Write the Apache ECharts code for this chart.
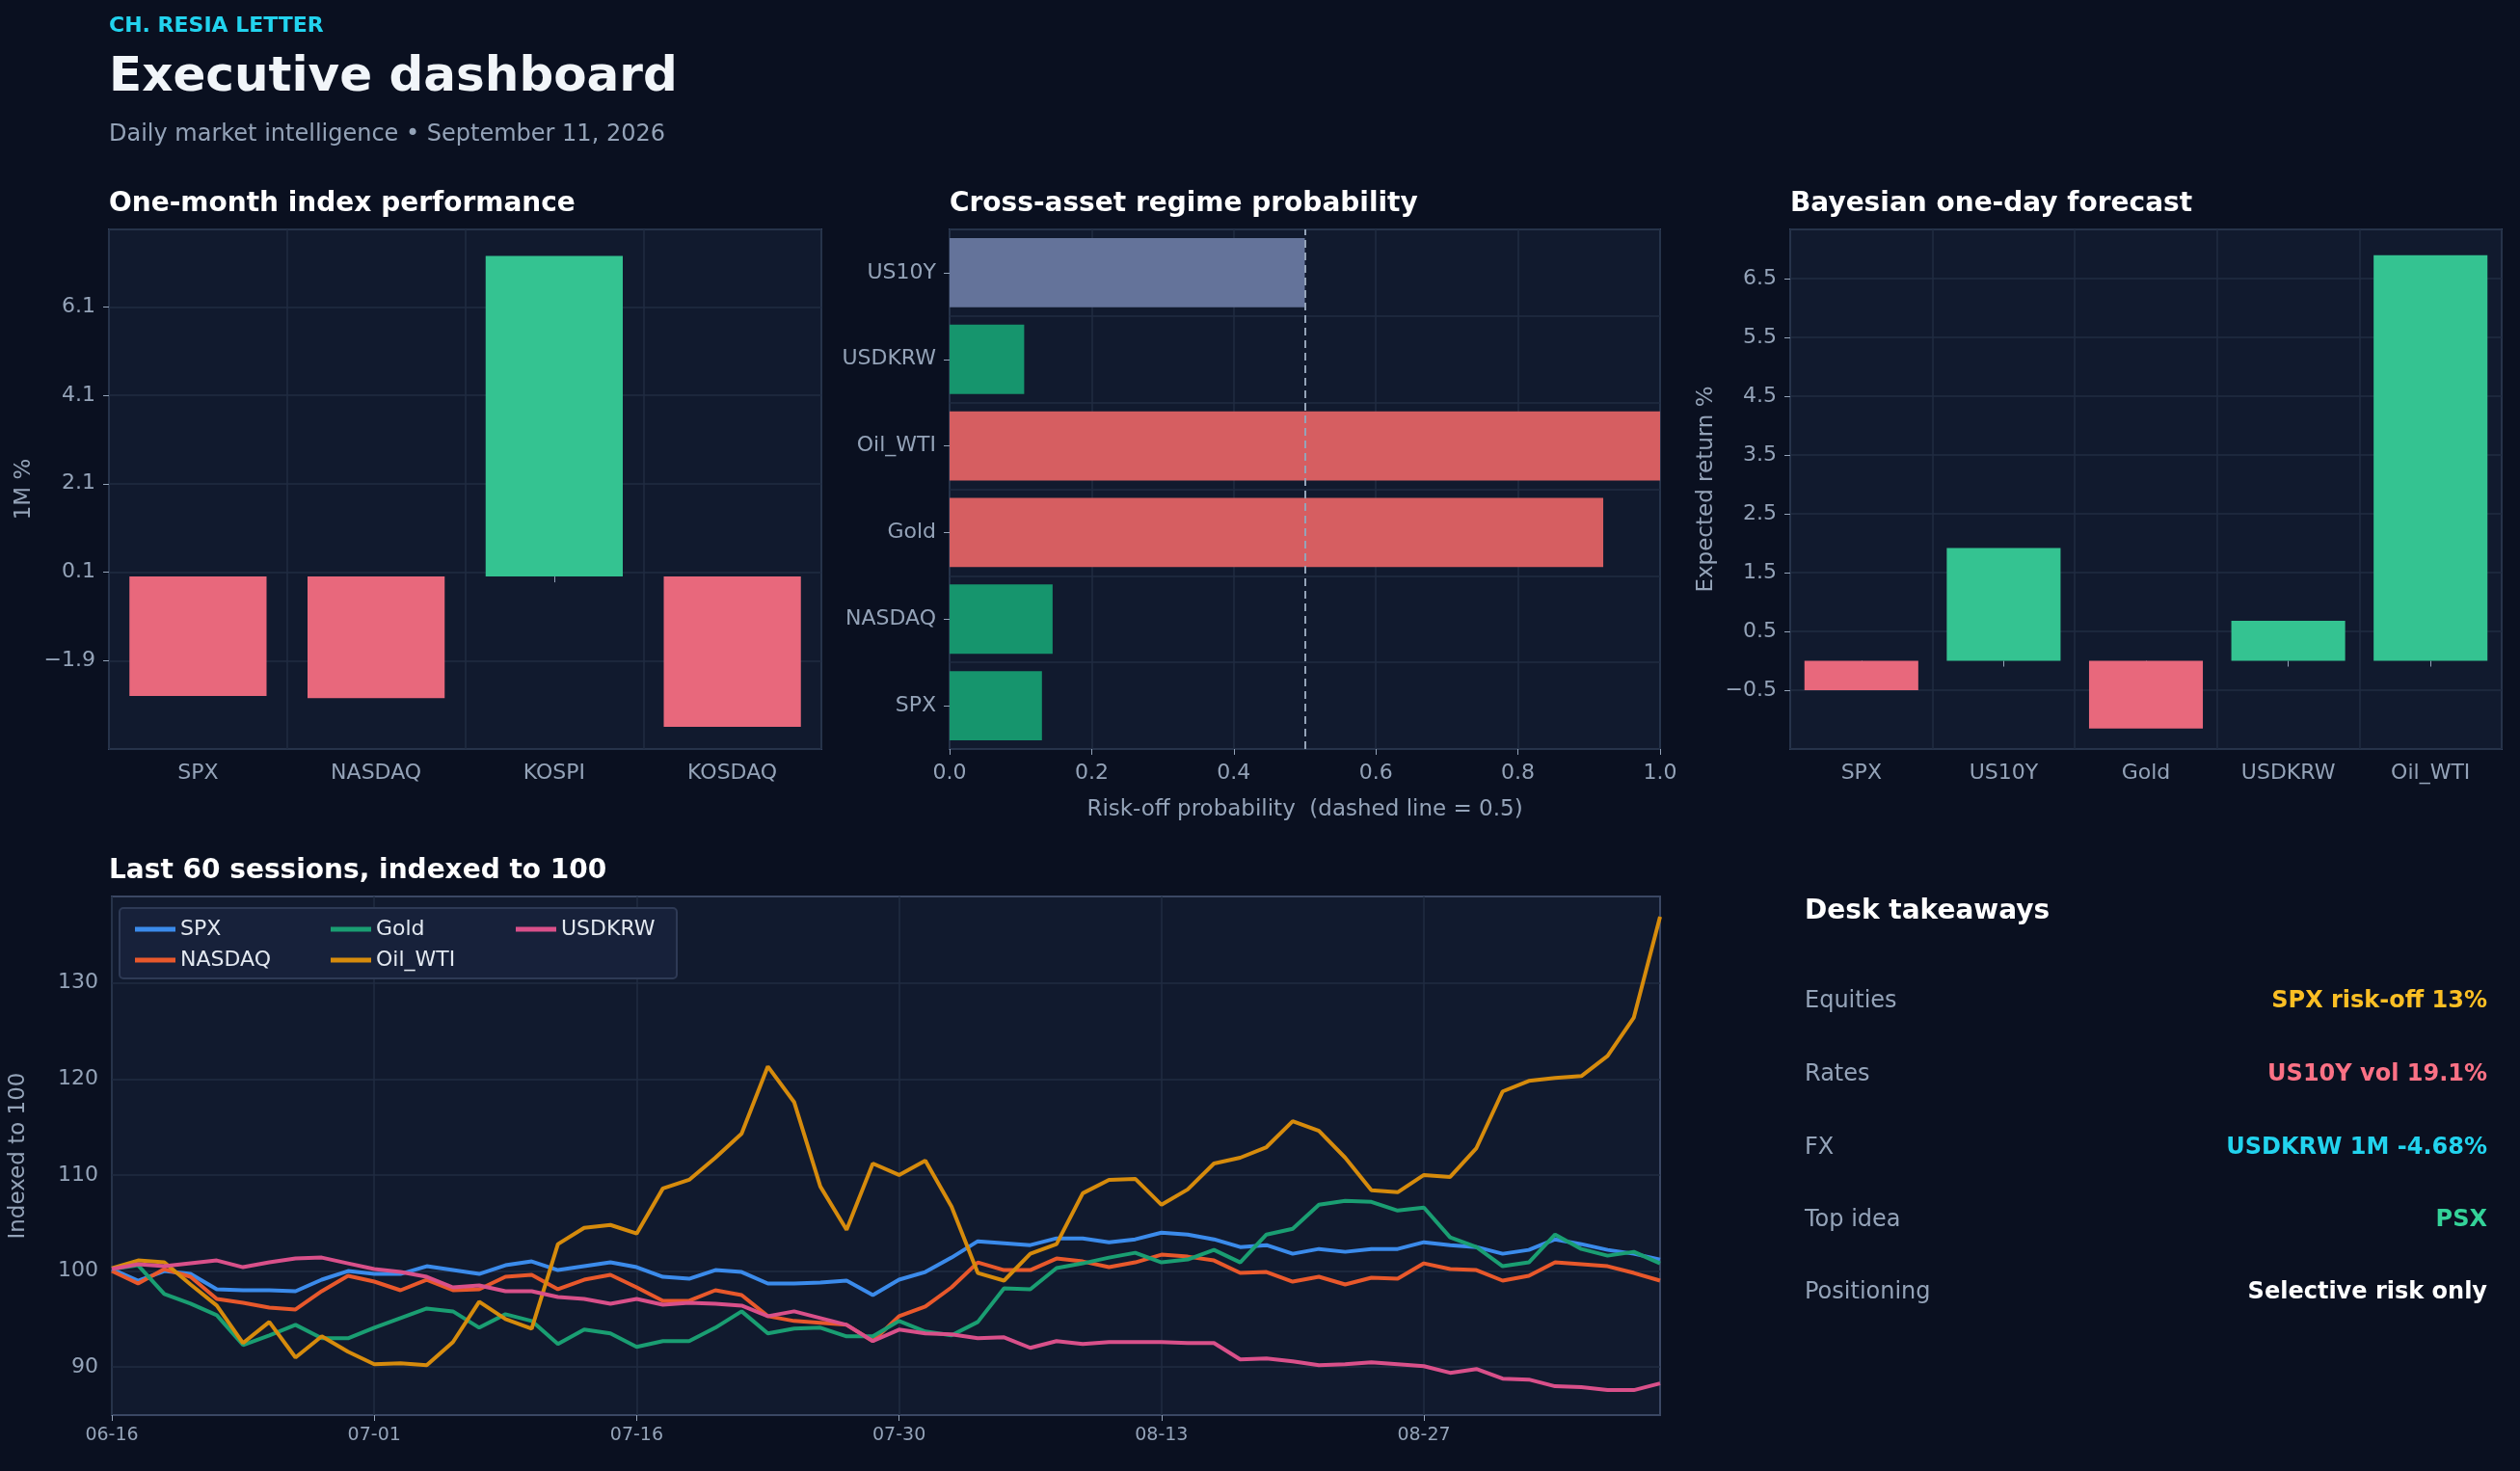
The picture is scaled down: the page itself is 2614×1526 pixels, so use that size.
<!DOCTYPE html>
<html><head><meta charset="utf-8">
<script src="https://cdn.jsdelivr.net/npm/echarts@6/dist/echarts.min.js"></script>
<style>html,body{margin:0;background:#0a1020;}#c{width:2614px;height:1526px;}</style>
</head><body><div id="c"></div>
<script>
const perfCats = ['SPX','NASDAQ','KOSPI','KOSDAQ'];
const perfVals = [-2.7,-2.75,7.25,-3.4];
const regimeCats = ['SPX','NASDAQ','Gold','Oil_WTI','USDKRW','US10Y'];
const regimeVals = [0.13,0.145,0.92,1.0,0.105,0.5];
const regimeColors = ['#16956d','#16956d','#d65e61','#d65e61','#16956d','#64739a'];
const fcCats = ['SPX','US10Y','Gold','USDKRW','Oil_WTI'];
const fcVals = [-0.5,1.92,-1.15,0.68,6.9];
const dates = ['06-16','06-17','06-18','06-19','06-22','06-23','06-24','06-25','06-26','06-29',
'07-01','07-02','07-03','07-06','07-07','07-08','07-09','07-10','07-13','07-14',
'07-16','07-17','07-20','07-21','07-22','07-23','07-24','07-27','07-28','07-29',
'07-30','07-31','08-03','08-04','08-05','08-06','08-07','08-10','08-11','08-12',
'08-13','08-14','08-17','08-18','08-19','08-20','08-21','08-24','08-25','08-26',
'08-27','08-28','08-31','09-01','09-02','09-03','09-04','09-07','09-08','09-09'];
const spx = [100.2,99,100,99.7,98.1,98,98,97.9,99.1,100,99.7,99.7,100.5,100.1,99.7,100.6,101,100.1,100.5,100.9,
100.4,99.4,99.2,100.1,99.9,98.7,98.7,98.8,99,97.5,99.1,99.9,101.4,103.1,102.9,102.7,103.4,103.4,103,103.3,
104,103.8,103.3,102.5,102.7,101.8,102.3,102,102.3,102.3,103,102.7,102.5,101.8,102.2,103.3,102.8,102.2,101.8,101.2];
const nasdaq = [100,98.7,100.2,99.4,97.1,96.7,96.2,96,97.9,99.5,98.9,98,99.1,98,98.1,99.4,99.6,98.1,99.1,99.6,
98.3,96.9,96.9,98,97.5,95.3,94.8,94.6,94.4,92.7,95.3,96.3,98.3,100.9,100.1,100.1,101.3,101,100.4,100.9,
101.7,101.5,101.1,99.8,99.9,98.9,99.4,98.6,99.3,99.2,100.8,100.2,100.1,99,99.5,100.9,100.7,100.5,99.8,99];
const gold = [100.2,100.6,97.6,96.6,95.4,92.3,93.3,94.4,93,93,94.1,95.1,96.1,95.8,94.1,95.5,94.8,92.4,93.9,93.5,
92.1,92.7,92.7,94.1,95.8,93.5,94,94.1,93.2,93.2,94.8,93.7,93.3,94.7,98.2,98.1,100.3,100.8,101.4,101.9,
100.9,101.2,102.2,100.9,103.8,104.4,106.9,107.3,107.2,106.3,106.6,103.5,102.5,100.5,100.9,103.8,102.3,101.6,102,100.8];
const oil = [100.3,101.1,100.9,98.6,96.4,92.5,94.7,91,93.2,91.6,90.3,90.4,90.2,92.6,96.8,95,94,102.8,104.5,104.8,
103.9,108.6,109.5,111.8,114.3,121.3,117.6,108.8,104.3,111.2,110,111.5,106.7,99.8,99,101.8,102.8,108.1,109.5,109.6,
106.9,108.5,111.2,111.8,112.9,115.6,114.6,111.8,108.4,108.2,110,109.8,112.8,118.7,119.8,120.1,120.3,122.4,126.4,136.9];
const usdkrw = [100.2,100.7,100.5,100.8,101.1,100.4,100.9,101.3,101.4,100.8,100.2,99.9,99.4,98.3,98.5,97.9,97.9,97.3,97.1,96.6,
97.1,96.5,96.7,96.6,96.4,95.3,95.8,95.1,94.4,92.7,93.9,93.5,93.4,93,93.1,92,92.7,92.4,92.6,92.6,
92.6,92.5,92.5,90.8,90.9,90.6,90.2,90.3,90.5,90.3,90.1,89.4,89.8,88.8,88.7,88,87.9,87.6,87.6,88.3];
const lineTicks = [90,100,110,120,130];
const takeLabels = ['Equities','Rates','FX','Top idea','Positioning'];
const takeValues = ['SPX risk-off 13%','US10Y vol 19.1%','USDKRW 1M -4.68%','PSX','Selective risk only'];
const takeColors = ['#fbbf24','#fb7185','#22d3ee','#34d399','#ffffff'];

const FONT = 'DejaVu Sans';
const AX = '#94a3b8', GRID = '#212c42', BORDER = '#3a4763';
const posC = '#34c391', negC = '#e8687c';
const chart = echarts.init(document.getElementById('c'));

function catAxis(gi, data, extra){
  return Object.assign({type:'category', gridIndex:gi, data:data,
    axisLine:{show:false}, axisTick:{show:true, alignWithLabel:true, length:6, lineStyle:{color:AX}},
    axisLabel:{color:AX, fontSize:22, fontFamily:FONT, margin:14},
    splitLine:{show:true, lineStyle:{color:GRID, width:1.5}}}, extra||{});
}
function valAxis(gi, extra){
  return Object.assign({type:'value', gridIndex:gi, axisLine:{show:false},
    axisTick:{show:true, length:6, lineStyle:{color:AX}},
    axisLabel:{color:AX, fontSize:22, fontFamily:FONT, margin:14},
    splitLine:{show:true, lineStyle:{color:GRID, width:1.5}},
    nameTextStyle:{color:AX, fontSize:23, fontFamily:FONT}}, extra||{});
}
const gridStyle = {show:true, backgroundColor:'#111a2e', borderColor:BORDER, borderWidth:2};

const graphics = [
  {type:'text', left:113, top:16, style:{text:'CH. RESIA LETTER', fill:'#22d3ee', font:'bold 22px "DejaVu Sans"'}},
  {type:'text', left:113, top:56, style:{text:'Executive dashboard', fill:'#f1f5f9', font:'bold 50px "DejaVu Sans"'}},
  {type:'text', left:113, top:128, style:{text:'Daily market intelligence • September 11, 2026', fill:AX, font:'24px "DejaVu Sans"'}},
  {type:'text', left:113, top:198, style:{text:'One-month index performance', fill:'#ffffff', font:'bold 28px "DejaVu Sans"'}},
  {type:'text', left:985, top:198, style:{text:'Cross-asset regime probability', fill:'#ffffff', font:'bold 28px "DejaVu Sans"'}},
  {type:'text', left:1857, top:198, style:{text:'Bayesian one-day forecast', fill:'#ffffff', font:'bold 28px "DejaVu Sans"'}},
  {type:'text', left:113, top:890, style:{text:'Last 60 sessions, indexed to 100', fill:'#ffffff', font:'bold 28px "DejaVu Sans"'}},
  {type:'text', left:1872, top:932, style:{text:'Desk takeaways', fill:'#ffffff', font:'bold 28px "DejaVu Sans"'}},
  {type:'rect', shape:{x:124, y:942, width:578, height:73, r:4}, style:{fill:'#17213a', stroke:'#2e3a55', lineWidth:2}, z:50}
];
const rowY = [1040,1116,1192,1267,1342];
takeLabels.forEach((t,i)=>{
  graphics.push({type:'text', left:1872, top:rowY[i]-13, style:{text:t, fill:AX, font:'24px "DejaVu Sans"'}});
  graphics.push({type:'text', right:2614-2580, top:rowY[i]-13, style:{text:takeValues[i], fill:takeColors[i], font:'bold 24px "DejaVu Sans"', align:'right'}});
});

const lineSeries = [['SPX',spx,'#3b8beb'],['NASDAQ',nasdaq,'#e8582b'],['Gold',gold,'#1a9e72'],['Oil_WTI',oil,'#d68b0c'],['USDKRW',usdkrw,'#d9508a']];
const legPos = [[135,948],[135,980],[338,948],[338,980],[530,948]];
const legends = lineSeries.map((s,i)=>({data:[s[0]], left:legPos[i][0], top:legPos[i][1], icon:'rect', itemWidth:42, itemHeight:5,
  textStyle:{color:'#e2e8f0', fontSize:22, fontFamily:FONT}, z:60, selectedMode:false}));

const series = [
  {type:'bar', xAxisIndex:0, yAxisIndex:0, data:perfVals.map(v=>({value:v, itemStyle:{color:v>=0?posC:negC}})), barCategoryGap:'23%', z:1},
  {type:'bar', xAxisIndex:1, yAxisIndex:1, data:regimeVals.map((v,i)=>({value:v, itemStyle:{color:regimeColors[i]}})), barCategoryGap:'20%',
    markLine:{silent:true, symbol:'none', label:{show:false}, lineStyle:{color:'#94a3b8', type:[8,5], width:2}, data:[{xAxis:0.5}]}},
  {type:'bar', xAxisIndex:2, yAxisIndex:2, data:fcVals.map(v=>({value:v, itemStyle:{color:v>=0?posC:negC}})), barCategoryGap:'20%'},
];
lineSeries.forEach((s,i)=>series.push({type:'line', name:s[0], xAxisIndex:3, yAxisIndex:3, data:s[1], symbol:'none',
  lineStyle:{color:s[2], width:4}, itemStyle:{color:s[2]},
  markLine: i===0 ? {silent:true, symbol:'none', label:{show:false}, lineStyle:{color:GRID, width:1.5, type:'solid'}, data:lineTicks.map(v=>({yAxis:v})), z:0} : undefined}));

chart.setOption({
  backgroundColor:'#0a1020', animation:false,
  textStyle:{fontFamily:FONT},
  graphic:graphics,
  legend:legends,
  grid:[
    Object.assign({left:113, top:238, width:739, height:539}, gridStyle),
    Object.assign({left:985, top:238, width:737, height:539}, gridStyle),
    Object.assign({left:1857, top:238, width:738, height:539}, gridStyle),
    Object.assign({left:113, top:930, width:1609, height:538}, gridStyle)
  ],
  xAxis:[
    catAxis(0, perfCats),
    valAxis(1, {min:0, max:1, interval:0.2, axisLabel:{color:AX, fontSize:22, fontFamily:FONT, margin:14, formatter:v=>v.toFixed(1)},
      name:'Risk-off probability  (dashed line = 0.5)', nameLocation:'middle', nameGap:52}),
    catAxis(2, fcCats),
    {type:'category', gridIndex:3, data:dates, boundaryGap:false, axisLine:{show:false},
      axisTick:{show:true, interval:9, length:6, lineStyle:{color:AX}},
      axisLabel:{interval:9, color:AX, fontSize:19, fontFamily:FONT, margin:12},
      splitLine:{show:true, interval:9, lineStyle:{color:GRID, width:1.5}}}
  ],
  yAxis:[
    valAxis(0, {min:-3.9, max:7.85, interval:2, name:'1M %', nameLocation:'middle', nameGap:76,
      axisLabel:{color:AX, fontSize:22, fontFamily:FONT, margin:14, showMinLabel:false, showMaxLabel:false, formatter:v=>v<0?'\u2212'+(-v):''+v}}),
    catAxis(1, regimeCats, {splitLine:{show:true, lineStyle:{color:GRID, width:1.5}}}),
    valAxis(2, {min:-1.5, max:7.34, interval:1, name:'Expected return %', nameLocation:'middle', nameGap:75,
      axisLabel:{color:AX, fontSize:22, fontFamily:FONT, margin:14, showMinLabel:false, showMaxLabel:false, formatter:v=>v<0?'\u2212'+(-v):''+v}}),
    valAxis(3, {min:85, max:139, interval:5, name:'Indexed to 100', nameLocation:'middle', nameGap:85,
      splitLine:{show:false},
      axisTick:{show:false},
      axisLabel:{color:AX, fontSize:22, fontFamily:FONT, margin:14, formatter:v=>(v%10===0)?''+v:''}})
  ],
  series:series
});
</script></body></html>
